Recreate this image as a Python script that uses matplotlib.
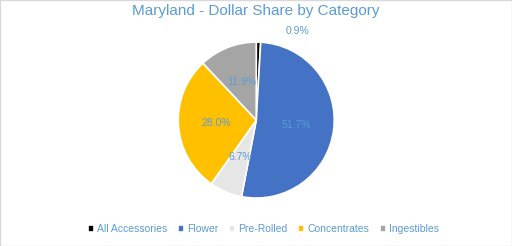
import numpy as np
import matplotlib.pyplot as plt
from matplotlib.patches import Rectangle

categories = ["All Accessories", "Flower", "Pre-Rolled", "Concentrates", "Ingestibles"]
shares = [0.9, 51.7, 6.7, 28.0, 11.9]
colors = ["#000000", "#4472C4", "#E7E6E6", "#FFC000", "#A5A5A5"]
label_color = "#5B9BD5"

plt.rcParams['font.family'] = ['Liberation Sans', 'DejaVu Sans']

fig = plt.figure(figsize=(5.12, 2.46), dpi=100)
ax = fig.add_axes([0.348, 0.195, 0.305, 0.634])

wedges, texts = ax.pie(
    shares, colors=colors, startangle=90, counterclock=False,
    wedgeprops=dict(edgecolor="white", linewidth=1.2))
ax.set_xlim(-1, 1)
ax.set_ylim(-1, 1)
ax.set_aspect("equal")

# value labels (Excel shows raw values, not renormalised)
for w, v in zip(wedges, shares):
    mid = np.deg2rad((w.theta1 + w.theta2) / 2)
    r = 0.52
    x, y = r * np.cos(mid), r * np.sin(mid)
    if v < 2:
        x, y = 0.53, 1.14
    ax.text(x, y, "%.1f%%" % v, color=label_color, fontsize=7.5,
            ha="center", va="center", clip_on=False)

fig.suptitle("Maryland - Dollar Share by Category", color=label_color,
             fontsize=11, y=0.985)

fig.legend(wedges, categories, loc="lower center", ncol=5, frameon=False,
           fontsize=7.5, handlelength=0.6, handleheight=0.6, handletextpad=0.3,
           columnspacing=1.0, labelcolor=label_color,
           bbox_to_anchor=(0.515, 0.01))

fig.patches.append(Rectangle((0, 0), 1, 1, transform=fig.transFigure,
                             fill=False, edgecolor="#D9D9D9", linewidth=1))

fig.savefig("out.png", dpi=100)
